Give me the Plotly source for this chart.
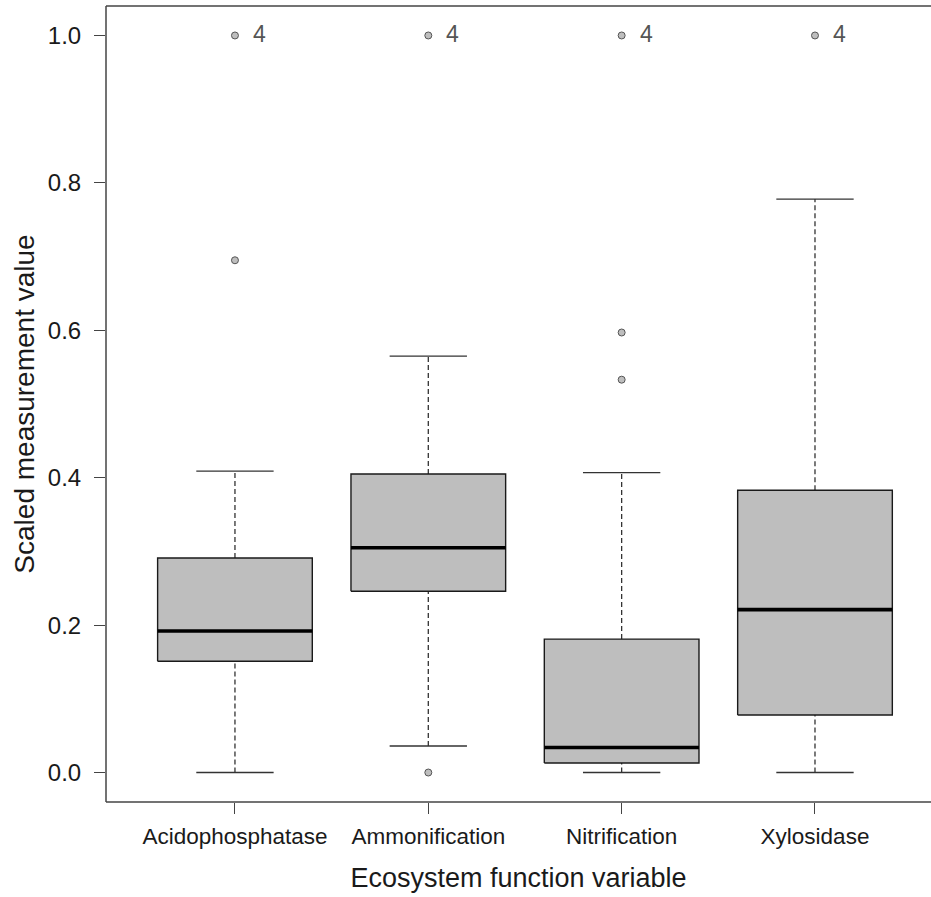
import plotly.graph_objects as go

# Box-plot summary statistics per ecosystem function (scaled 0-1)
categories = ["Acidophosphatase", "Ammonification", "Nitrification", "Xylosidase"]
lower_whisker = [0.0, 0.036, 0.0, 0.0]
q1 = [0.151, 0.246, 0.013, 0.078]
median = [0.192, 0.305, 0.034, 0.221]
q3 = [0.291, 0.405, 0.181, 0.383]
upper_whisker = [0.409, 0.565, 0.407, 0.778]

# Outlying observations (category index, value)
outlier_cat = [1, 1, 2, 2, 3, 3, 3, 4]
outlier_val = [0.695, 1.0, 0.0, 1.0, 0.597, 0.533, 1.0, 1.0]

# Labelled outliers (observation id shown next to the point)
label_cat = [1, 2, 3, 4]
label_val = [1.0, 1.0, 1.0, 1.0]
label_txt = ["4", "4", "4", "4"]

y_ticks = [0.0, 0.2, 0.4, 0.6, 0.8, 1.0]

BOX_HALF = 0.4
CAP_HALF = 0.2
FILL = "#BEBEBE"
EDGE = "#1a1a1a"
AXIS = "#444444"
FONT = "Liberation Sans, Arial, sans-serif"

fig = go.Figure()
positions = list(range(1, len(categories) + 1))

# whiskers (dashed), drawn first so box bodies sit on top
wx, wy = [], []
for p, lo, a, b, hi in zip(positions, lower_whisker, q1, q3, upper_whisker):
    wx += [p, p, None, p, p, None]
    wy += [lo, a, None, b, hi, None]
fig.add_trace(go.Scatter(x=wx, y=wy, mode="lines",
                         line=dict(color="#333333", width=1.3, dash="5px,3px"),
                         hoverinfo="skip", showlegend=False))

# whisker caps
cx, cy = [], []
for p, lo, hi in zip(positions, lower_whisker, upper_whisker):
    cx += [p - CAP_HALF, p + CAP_HALF, None, p - CAP_HALF, p + CAP_HALF, None]
    cy += [lo, lo, None, hi, hi, None]
fig.add_trace(go.Scatter(x=cx, y=cy, mode="lines",
                         line=dict(color="#333333", width=1.3),
                         hoverinfo="skip", showlegend=False))

# box bodies
for p, a, b in zip(positions, q1, q3):
    fig.add_trace(go.Scatter(
        x=[p - BOX_HALF, p + BOX_HALF, p + BOX_HALF, p - BOX_HALF, p - BOX_HALF],
        y=[a, a, b, b, a], mode="lines", fill="toself", fillcolor=FILL,
        line=dict(color=EDGE, width=1.4), hoverinfo="skip", showlegend=False))

# medians
mx, my = [], []
for p, m in zip(positions, median):
    mx += [p - BOX_HALF, p + BOX_HALF, None]
    my += [m, m, None]
fig.add_trace(go.Scatter(x=mx, y=my, mode="lines",
                         line=dict(color="#000000", width=3.6),
                         hoverinfo="skip", showlegend=False))

# outliers
fig.add_trace(go.Scatter(x=outlier_cat, y=outlier_val, mode="markers",
                         marker=dict(symbol="circle", size=7, color=FILL,
                                     line=dict(color="#555555", width=1)),
                         hoverinfo="skip", showlegend=False))

for c, v, t in zip(label_cat, label_val, label_txt):
    fig.add_annotation(x=c, y=v, text=t, showarrow=False, xanchor="left",
                       xshift=16, yshift=1,
                       font=dict(family=FONT, size=23, color="#555555"))

# plotting frame: left, bottom and top edges (right edge falls outside the page)
frame = dict(color=AXIS, width=1.5)
fig.add_shape(type="line", xref="paper", yref="paper", x0=0, x1=1.05, y0=1, y1=1, line=frame)
fig.add_shape(type="line", xref="paper", yref="paper", x0=0, x1=1.05, y0=0, y1=0, line=frame)
fig.add_shape(type="line", xref="paper", yref="paper", x0=0, x1=0, y0=0, y1=1, line=frame)

fig.update_layout(
    width=931, height=897,
    margin=dict(l=106, r=0, t=6, b=95),
    paper_bgcolor="white", plot_bgcolor="white",
    font=dict(family=FONT, color="#1a1a1a"),
)
fig.update_xaxes(
    range=[0.333, 4.6], tickmode="array", tickvals=positions, ticktext=categories,
    showgrid=False, zeroline=False, showline=False,
    ticks="outside", ticklen=11, tickwidth=1.3,
    tickcolor=AXIS, ticklabelstandoff=3,
    tickfont=dict(size=22.5, family=FONT, color="#1a1a1a"),
    title=dict(text="Ecosystem function variable", standoff=20,
               font=dict(size=27, family=FONT, color="#1a1a1a")),
)
fig.update_yaxes(
    range=[-0.04, 1.04], tickmode="array", tickvals=y_ticks,
    ticktext=[f"{v:.1f}" for v in y_ticks],
    showgrid=False, zeroline=False, showline=False,
    ticks="outside", ticklen=11, tickwidth=1.3,
    tickcolor=AXIS, ticklabelstandoff=8,
    tickfont=dict(size=24, family=FONT, color="#1a1a1a"),
    title=dict(text="Scaled measurement value", standoff=5,
               font=dict(size=28, family=FONT, color="#1a1a1a")),
)

fig.write_html("out.html")
